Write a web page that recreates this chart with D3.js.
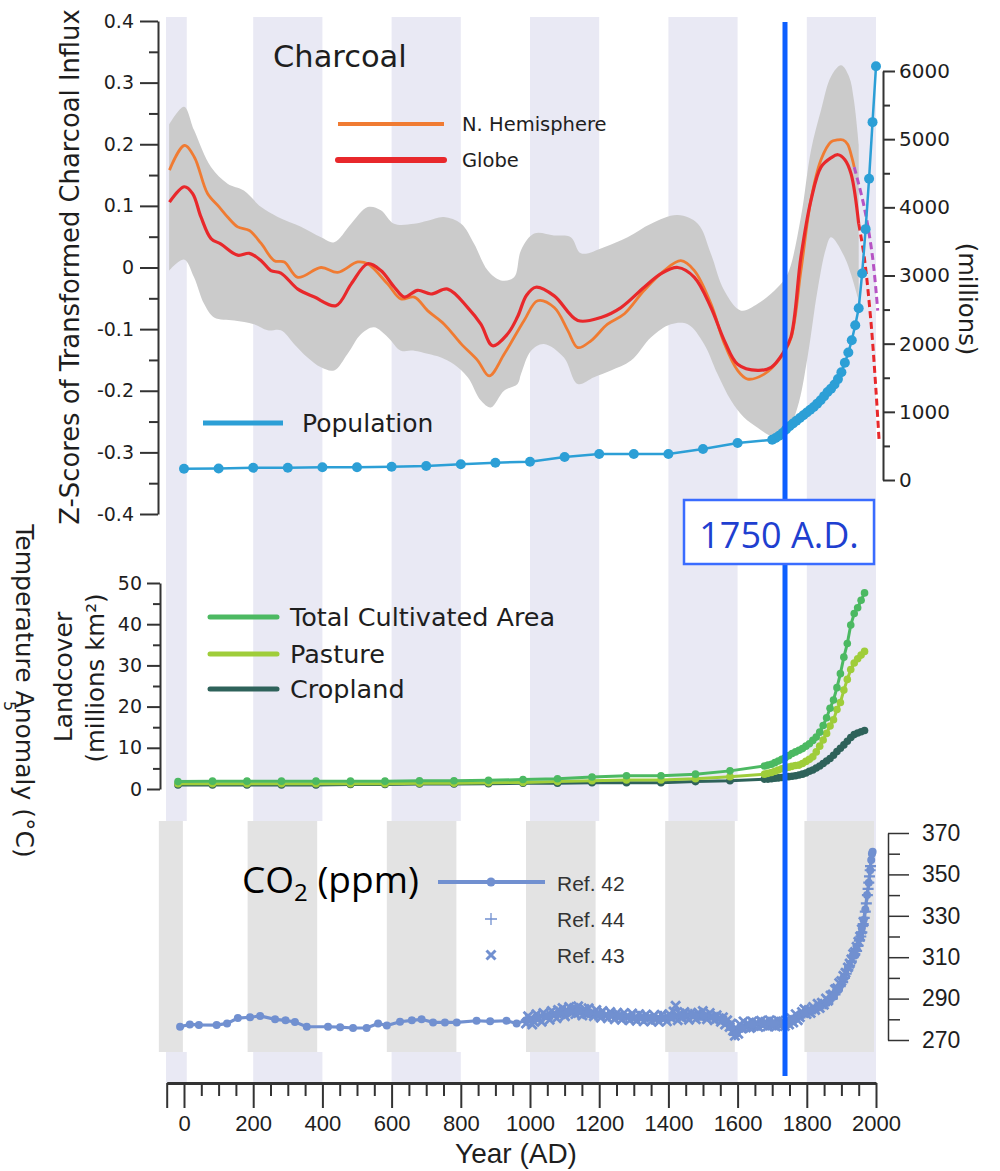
<!DOCTYPE html>
<html><head><meta charset="utf-8">
<script src="https://cdn.jsdelivr.net/npm/d3@7"></script>
<style>body{margin:0;background:#fff}</style>
</head><body>
<svg id="c" width="1000" height="1171"></svg>
<script>
// ---------------- DATA ----------------
// Charcoal z-scores [year, z]
const nhCharcoal = [[-42,0.158],[1,0.198],[30,0.179],[68,0.12],[102,0.098],[126,0.082],[155,0.066],[189,0.06],[223,0.039],[261,0.011],[290,0.009],[329,-0.016],[396,0.0],[444,-0.008],[502,0.009],[531,0.006],[589,-0.027],[627,-0.051],[666,-0.048],[704,-0.07],[752,-0.092],[801,-0.124],[849,-0.151],[882,-0.176],[926,-0.140],[983,-0.086],[1022,-0.054],[1070,-0.065],[1109,-0.102],[1138,-0.130],[1176,-0.119],[1224,-0.092],[1273,-0.075],[1330,-0.037],[1388,-0.005],[1436,0.011],[1475,-0.005],[1523,-0.059],[1562,-0.124],[1600,-0.167],[1629,-0.181],[1677,-0.173],[1725,-0.146],[1754,-0.115],[1783,-0.005],[1812,0.11],[1841,0.175],[1870,0.204],[1888,0.207],[1905,0.207],[1918,0.2],[1930,0.179],[1937,0.163]];
const nhCharcoalDashed = [[1937,0.163],[1966,0.098],[1990,0.017],[2005,-0.07]];
const globeCharcoal = [[-42,0.106],[1,0.131],[25,0.12],[49,0.082],[78,0.047],[107,0.038],[155,0.02],[189,0.023],[223,0.011],[251,-0.005],[280,-0.009],[329,-0.035],[377,-0.048],[439,-0.062],[483,-0.027],[531,0.006],[569,-0.005],[608,-0.032],[637,-0.048],[675,-0.037],[714,-0.043],[762,-0.035],[820,-0.065],[858,-0.092],[892,-0.127],[935,-0.108],[964,-0.08],[990,-0.045],[1017,-0.032],[1070,-0.046],[1138,-0.086],[1205,-0.081],[1263,-0.065],[1330,-0.032],[1379,-0.01],[1427,0.0],[1475,-0.016],[1523,-0.065],[1562,-0.119],[1600,-0.157],[1658,-0.167],[1697,-0.162],[1730,-0.140],[1754,-0.113],[1783,0.017],[1812,0.109],[1841,0.163],[1870,0.178],[1890,0.183],[1910,0.175],[1928,0.152],[1950,0.071]];
const globeCharcoalDashed = [[1950,0.071],[1966,0.017],[1986,-0.092],[2000,-0.2],[2009,-0.281]];
const ciUpper = [[-43,0.232],[0,0.261],[29,0.223],[78,0.163],[126,0.136],[173,0.125],[223,0.098],[271,0.082],[338,0.066],[396,0.049],[434,0.041],[483,0.071],[531,0.098],[569,0.093],[607,0.071],[665,0.071],[704,0.076],[751,0.082],[801,0.071],[838,0.039],[878,-0.005],[916,-0.021],[954,-0.016],[974,0.028],[1012,0.055],[1069,0.052],[1118,0.049],[1147,0.023],[1214,0.033],[1282,0.049],[1350,0.071],[1427,0.085],[1485,0.071],[1523,0.022],[1561,-0.037],[1610,-0.07],[1658,-0.059],[1716,-0.032],[1745,-0.01],[1783,0.082],[1812,0.19],[1841,0.255],[1870,0.31],[1899,0.328],[1922,0.31],[1936,0.272],[1950,0.2]];
const ciLower = [[-43,-0.005],[0,0.013],[29,-0.016],[58,-0.059],[87,-0.081],[145,-0.086],[202,-0.092],[242,-0.102],[280,-0.102],[318,-0.124],[357,-0.146],[396,-0.162],[434,-0.167],[473,-0.140],[512,-0.108],[549,-0.097],[589,-0.113],[627,-0.135],[665,-0.135],[704,-0.140],[743,-0.146],[780,-0.157],[820,-0.178],[858,-0.216],[887,-0.227],[925,-0.2],[964,-0.189],[974,-0.173],[1003,-0.135],[1040,-0.124],[1098,-0.146],[1138,-0.189],[1185,-0.178],[1234,-0.167],[1292,-0.151],[1350,-0.113],[1407,-0.092],[1456,-0.092],[1503,-0.124],[1542,-0.173],[1581,-0.216],[1618,-0.243],[1658,-0.26],[1705,-0.276],[1734,-0.276],[1773,-0.227],[1802,-0.146],[1831,-0.037],[1855,0.03],[1870,0.049],[1909,0.017],[1947,-0.048],[1950,-0.055]];

// Population (millions)
const popYears = [0,100,200,300,400,500,600,700,800,900,1000,1100,1200,1300,1400,1500,1600,1700,1710,1720,1730,1740,1750,1760,1770,1780,1790,1800,1810,1820,1830,1840,1850,1860,1870,1880,1890,1900,1910,1920,1930,1940,1950,1960,1970,1980,1990,2000];
const popValues = [166,170,180,180,186,186,195,205,230,254,268,337,381,381,381,455,543,590,615,650,690,740,790,830,870,910,950,990,1030,1070,1120,1170,1230,1290,1340,1400,1480,1580,1720,1870,2050,2270,2520,3030,3680,4420,5250,6070];

// Landcover (millions km2)
const landYears = [0,100,200,300,400,500,600,700,800,900,1000,1100,1200,1300,1400,1500,1600,1700,1710,1720,1730,1740,1750,1760,1770,1780,1790,1800,1810,1820,1830,1840,1850,1860,1870,1880,1890,1900,1910,1920,1930,1940,1950,1960,1970,1980,1990];
const totalArea = [1.8,1.9,1.9,1.9,1.9,1.9,1.9,2.0,2.0,2.1,2.3,2.5,2.9,3.2,3.2,3.6,4.4,5.6,5.8,6.0,6.4,6.8,7.2,7.6,8.1,8.6,9.0,9.4,9.8,10.4,11.0,11.8,12.6,13.8,15.4,17.3,19.6,21.6,24.6,28.0,32.0,35.3,39.8,42.6,44.0,45.8,47.6];
const pasture = [1.3,1.3,1.3,1.3,1.3,1.3,1.3,1.4,1.4,1.5,1.6,1.8,2.0,2.2,2.2,2.5,3.0,3.6,3.8,4.0,4.3,4.6,4.9,5.1,5.3,5.5,5.7,5.8,6.2,6.7,7.2,7.8,9.0,10.4,11.9,13.5,15.3,16.8,19.3,21.0,24.0,26.6,29.0,30.6,31.6,32.5,33.4];
const cropland = [1.0,1.0,1.0,1.0,1.0,1.1,1.1,1.2,1.2,1.3,1.4,1.4,1.5,1.5,1.5,1.8,2.0,2.4,2.4,2.5,2.6,2.7,2.8,2.9,3.0,3.1,3.2,3.4,3.6,3.9,4.3,4.6,5.1,5.6,6.2,6.8,7.4,8.2,9.1,9.9,10.7,11.6,12.5,13.2,13.6,13.9,14.2];

// CO2 (ppm) [year, ppm]
const co2Ref42 = [[6,276.4],[34,277.5],[60,277.3],[111,277.2],[141,278],[172,280.6],[207,281],[236,281.6],[279,280],[309,279.5],[336,278.7],[370,276.4],[431,276.4],[466,276.2],[503,275.8],[542,275.8],[575,278],[600,277],[638,278.8],[672,279.5],[700,280],[733,278.5],[767,278.5],[801,278.5],[858,279.3],[897,279],[944,279.3],[973,278],[1000,279.5],[1030,280.5],[1060,281.5],[1090,282.5],[1120,283.5],[1150,283.8],[1180,283],[1210,282.3],[1240,282],[1270,281.6],[1300,281.5],[1330,281],[1360,280.8],[1390,280.5],[1420,281],[1450,281.5],[1480,282],[1510,281.8],[1540,281],[1570,279.5],[1590,276],[1605,273],[1620,275.5],[1650,277.5],[1680,278],[1710,278],[1740,278.3],[1770,279.5],[1800,283],[1820,284.5],[1845,286],[1865,288],[1885,291],[1900,295],[1912,300],[1925,305],[1940,311],[1950,314],[1960,320],[1965,324],[1970,328],[1975,333],[1980,340],[1985,346],[1989,352],[1992,357],[1994,360],[1996,361]];
const co2Ref43 = [[1000,278],[1006,281.5],[1012,280],[1018,277.5],[1022,279],[1030,282.5],[1035,280.5],[1045,278.8],[1050,283],[1058,281.5],[1068,279.8],[1074,284],[1080,282],[1088,280.5],[1092,284.5],[1100,282.5],[1105,285.5],[1112,281.5],[1118,284],[1124,286],[1130,283],[1138,285.5],[1142,282.5],[1150,286.3],[1155,283.5],[1162,281.8],[1168,285],[1175,282.5],[1180,285.3],[1188,283],[1195,281.5],[1202,284.5],[1208,282.3],[1215,280.8],[1220,284],[1228,282],[1235,280.5],[1242,283.5],[1248,281.8],[1255,280],[1262,283.2],[1268,281],[1275,279.8],[1282,283],[1290,281.2],[1298,279.5],[1305,282.8],[1312,280.5],[1318,279.3],[1325,282.5],[1330,280.3],[1338,279],[1345,282.3],[1352,280.6],[1360,279],[1368,282],[1375,280.2],[1382,278.8],[1390,282.2],[1398,280.5],[1405,279],[1412,282.5],[1418,280.5],[1424,283.8],[1430,286.5],[1436,279.5],[1442,282.8],[1448,280.8],[1455,283.5],[1462,281.2],[1468,279.8],[1475,283],[1480,281.5],[1488,280],[1495,283.2],[1502,281],[1508,284],[1515,281.8],[1520,280],[1528,283],[1535,281],[1542,279.5],[1548,282],[1555,280.5],[1560,278.8],[1566,281],[1572,277.5],[1578,279.5],[1585,276.3],[1590,278],[1595,274.5],[1600,272],[1605,275.5],[1610,273],[1615,277.5],[1620,275.5],[1625,279],[1632,276],[1638,278],[1644,275.8],[1650,279],[1656,276.8],[1662,278.5],[1668,276.3],[1675,279.3],[1681,277],[1688,278.8],[1694,276.5],[1700,279.5],[1706,277],[1712,278.8],[1718,276.5],[1725,279.3],[1732,277],[1738,279],[1744,276.8],[1750,279.5],[1756,277.5],[1762,280.5],[1768,278.5],[1775,282.5],[1781,279.5],[1787,281],[1793,283.5],[1800,285],[1806,282.5],[1812,284.5],[1818,283],[1825,286],[1831,284.5],[1838,287.5],[1844,285.5],[1850,288],[1856,287],[1862,290],[1868,289],[1875,291.5],[1881,292],[1888,294.5],[1894,295],[1900,297.5],[1906,298.5],[1912,301],[1918,302.5],[1925,305],[1930,307],[1935,309],[1940,311.5],[1945,312.5],[1950,315],[1955,317.5],[1960,320],[1965,323.5],[1970,327]];
const co2Ref44 = [[1005,280],[1015,279],[1025,280.5],[1038,281],[1050,281.5],[1062,282.5],[1075,282.5],[1088,283.5],[1100,283],[1112,284.5],[1125,284],[1138,284.5],[1150,283],[1162,284],[1175,283.5],[1188,282.5],[1200,282],[1212,283],[1225,282.5],[1238,281.5],[1250,282],[1262,281],[1275,281.8],[1288,280.5],[1300,281],[1312,281.5],[1325,281.5],[1338,280.5],[1350,281],[1362,280],[1375,280.5],[1388,281.5],[1400,281],[1412,280.5],[1425,281.5],[1438,282],[1450,282],[1462,282.5],[1475,282.5],[1488,282],[1500,282],[1512,281.5],[1525,281.5],[1538,280.5],[1550,281],[1562,280],[1575,279],[1582,277.5],[1590,275],[1600,272.5],[1610,275],[1620,276.5],[1630,277],[1642,277.5],[1655,277.5],[1668,278],[1680,278.5],[1692,277.5],[1705,278],[1718,278],[1730,278.5],[1742,278],[1755,278.5],[1765,279.5],[1770,280],[1778,281],[1785,282],[1792,282],[1800,283],[1810,283.5],[1820,284],[1830,285],[1840,285.5],[1850,286.5],[1860,287.5],[1870,289],[1880,290],[1888,292],[1895,294],[1903,296],[1910,298],[1915,300],[1920,302],[1925,304],[1930,306],[1935,308],[1940,310],[1945,311.5],[1950,313],[1954,315.5],[1958,318],[1962,320],[1965,322],[1969,326],[1972,329],[1975,332],[1978,336],[1981,340],[1983,343],[1985,346],[1987,349],[1989,352],[1990,354]];

// background period bands (years)
const periodBands = [[-52,8],[200,400],[600,800],[1000,1200],[1400,1600],[1800,2000]];
const co2Bands = [[-55,14],[200,400],[600,800],[1000,1200],[1400,1600],[1800,2000]];
const markerYear = 1737;
const markerLabel = "1750 A.D.";

// tick labels
const zTicks = [-0.4,-0.3,-0.2,-0.1,0,0.1,0.2,0.3,0.4];
const popTicks = [0,1000,2000,3000,4000,5000,6000];
const landTicks = [0,10,20,30,40,50];
const co2Ticks = [270,290,310,330,350,370];
const yearTicks = [0,200,400,600,800,1000,1200,1400,1600,1800,2000];

// ---------------- DRAW ----------------
const svg = d3.select("#c");
const DV = "DejaVu Sans";
const AR = "Liberation Sans, Arial, sans-serif";

const xMain = d3.scaleLinear().domain([0,2000]).range([184,876]);
const xLand = d3.scaleLinear().domain([0,2000]).range([178,868]);
const xCO2 = d3.scaleLinear().domain([0,2000]).range([178,874]);
const yZ = d3.scaleLinear().domain([-0.4,0.4]).range([514,21]);
const yPop = d3.scaleLinear().domain([0,6000]).range([480,71]);
const yL = d3.scaleLinear().domain([0,50]).range([789,583]);
const yC = d3.scaleLinear().domain([270,370]).range([1040,833]);

const C = {lav:"#e9e9f4", ci:"#cbcbcb", nh:"#f07b32", globe:"#e8282b", purple:"#b653c4",
  pop:"#2c9fd6", total:"#4cb962", past:"#9fcd3a", crop:"#2e625a", co2:"#7190d0", blue:"#0d5fff", axis:"#333"};

// lavender bands
svg.append("g").selectAll("rect").data(periodBands).join("rect")
  .attr("x",d=>xMain(d[0])).attr("width",d=>xMain(d[1])-xMain(d[0]))
  .attr("y",17).attr("height",1083-17).attr("fill",C.lav);

function styleAxis(g, font, size, sw){
  g.attr("font-family",font).attr("font-size",size);
  g.selectAll("text").attr("fill","#1e1e1e");
  g.selectAll("line,path").attr("stroke",C.axis).attr("stroke-width",sw||2);
}

// ---- TOP PANEL ----
const lineZ = d3.line().x(d=>xMain(d[0])).y(d=>yZ(d[1])).curve(d3.curveCatmullRom.alpha(0.5));
const upPath = lineZ(ciUpper);
const lowPath = lineZ(ciLower.slice().reverse());
svg.append("path").attr("d", upPath + "L" + lowPath.slice(1) + "Z").attr("fill",C.ci);

// Z axis
const zAxis = svg.append("g").attr("transform","translate(158,0)")
  .call(d3.axisLeft(yZ).tickValues(zTicks).tickSize(18).tickPadding(6).tickSizeOuter(0)
    .tickFormat(d=> d===0 ? "0" : d.toFixed(1)));
styleAxis(zAxis, DV, 19);
const zMinor = svg.append("g").attr("transform","translate(158,0)")
  .call(d3.axisLeft(yZ).tickValues(zTicks.slice(0,-1).map(d=>d+0.05)).tickSize(9).tickFormat(""));
zMinor.select(".domain").remove(); styleAxis(zMinor, DV, 19);

// Pop axis
const pAxis = svg.append("g").attr("transform","translate(883,0)")
  .call(d3.axisRight(yPop).tickValues(popTicks).tickSize(12).tickPadding(4).tickSizeOuter(0).tickFormat(d3.format("d")));
styleAxis(pAxis, DV, 20);
const pMinor = svg.append("g").attr("transform","translate(883,0)")
  .call(d3.axisRight(yPop).tickValues(popTicks.slice(0,-1).map(d=>d+500)).tickSize(7).tickFormat(""));
pMinor.select(".domain").remove(); styleAxis(pMinor, DV, 20);

// charcoal lines
svg.append("path").attr("d",lineZ(nhCharcoal)).attr("fill","none").attr("stroke",C.nh).attr("stroke-width",2.8);
svg.append("path").attr("d",lineZ(nhCharcoalDashed)).attr("fill","none").attr("stroke",C.purple).attr("stroke-width",3).attr("stroke-dasharray","7,4");
svg.append("path").attr("d",lineZ(globeCharcoal)).attr("fill","none").attr("stroke",C.globe).attr("stroke-width",3.2);
svg.append("path").attr("d",lineZ(globeCharcoalDashed)).attr("fill","none").attr("stroke",C.globe).attr("stroke-width",3).attr("stroke-dasharray","7,4");

// population
const popData = popYears.map((y,i)=>[y,popValues[i]]);
svg.append("path").attr("d",d3.line().x(d=>xMain(d[0])).y(d=>yPop(d[1]))(popData))
  .attr("fill","none").attr("stroke",C.pop).attr("stroke-width",2.5);
svg.append("g").selectAll("circle").data(popData).join("circle")
  .attr("cx",d=>xMain(d[0])).attr("cy",d=>yPop(d[1])).attr("r",5).attr("fill",C.pop);

// top texts
svg.append("text").attr("x",273).attr("y",67).attr("font-family",DV).attr("font-size",30.5).attr("fill","#1e1e1e").text("Charcoal");
svg.append("line").attr("x1",338).attr("x2",444).attr("y1",124).attr("y2",124).attr("stroke",C.nh).attr("stroke-width",4);
svg.append("line").attr("x1",338).attr("x2",444).attr("y1",160).attr("y2",160).attr("stroke",C.globe).attr("stroke-width",6).attr("stroke-linecap","round");
svg.append("text").attr("x",462).attr("y",124).attr("dy","0.36em").attr("font-family",DV).attr("font-size",19.5).attr("fill","#1e1e1e").text("N. Hemisphere");
svg.append("text").attr("x",462).attr("y",160).attr("dy","0.36em").attr("font-family",DV).attr("font-size",19.5).attr("fill","#1e1e1e").text("Globe");
svg.append("line").attr("x1",203).attr("x2",283).attr("y1",423).attr("y2",423).attr("stroke",C.pop).attr("stroke-width",5);
svg.append("text").attr("x",302).attr("y",423).attr("dy","0.36em").attr("font-family",DV).attr("font-size",25).attr("fill","#1e1e1e").text("Population");
svg.append("text").attr("transform","translate(70,267) rotate(-90)").attr("text-anchor","middle").attr("dy","0.36em")
  .attr("font-family",DV).attr("font-size",25.8).attr("fill","#1e1e1e").text("Z-Scores of Transformed Charcoal Influx");
svg.append("text").attr("transform","translate(968,299) rotate(90)").attr("text-anchor","middle").attr("dy","0.36em")
  .attr("font-family",DV).attr("font-size",24.3).attr("fill","#1e1e1e").text("(millions)");

// ---- MIDDLE PANEL ----
const lAxis = svg.append("g").attr("transform","translate(160,0)")
  .call(d3.axisLeft(yL).tickValues(landTicks).tickSize(13).tickPadding(5).tickSizeOuter(0));
styleAxis(lAxis, DV, 19);
const lMinor = svg.append("g").attr("transform","translate(160,0)")
  .call(d3.axisLeft(yL).tickValues(landTicks.slice(0,-1).map(d=>d+5)).tickSize(7).tickFormat(""));
lMinor.select(".domain").remove(); styleAxis(lMinor, DV, 19);

const landSeries = [
  {vals:cropland, color:C.crop},
  {vals:pasture, color:C.past},
  {vals:totalArea, color:C.total}
];
const lineL = d3.line().x(d=>xLand(d[0])).y(d=>yL(d[1]));
landSeries.forEach(s=>{
  const pts = landYears.map((y,i)=>[y,s.vals[i]]);
  svg.append("path").attr("d",lineL(pts)).attr("fill","none").attr("stroke",s.color).attr("stroke-width",3);
  svg.append("g").selectAll("circle").data(pts).join("circle")
    .attr("cx",d=>xLand(d[0])).attr("cy",d=>yL(d[1])).attr("r",3.8).attr("fill",s.color);
});
const legL = [["Total Cultivated Area",C.total,617],["Pasture",C.past,654],["Cropland",C.crop,689]];
legL.forEach(l=>{
  svg.append("line").attr("x1",210).attr("x2",277).attr("y1",l[2]).attr("y2",l[2]).attr("stroke",l[1]).attr("stroke-width",5).attr("stroke-linecap","round");
  svg.append("text").attr("x",290).attr("y",l[2]).attr("dy","0.36em").attr("font-family",DV).attr("font-size",25.5).attr("fill","#1e1e1e").text(l[0]);
});
svg.append("text").attr("transform","translate(63,677) rotate(-90)").attr("text-anchor","middle").attr("dy","0.36em")
  .attr("font-family",DV).attr("font-size",25).attr("fill","#1e1e1e").text("Landcover");
svg.append("text").attr("transform","translate(95,678) rotate(-90)").attr("text-anchor","middle").attr("dy","0.36em")
  .attr("font-family",DV).attr("font-size",24.5).attr("fill","#1e1e1e").text("(millions km²)");

// left edge fragments
svg.append("text").attr("transform","translate(25,691) rotate(90)").attr("text-anchor","middle").attr("dy","0.36em")
  .attr("font-family",DV).attr("font-size",25).attr("fill","#1e1e1e").text("Temperature Anomaly (°C)");
svg.append("text").attr("transform","translate(10,706) rotate(90)").attr("text-anchor","middle").attr("dy","0.36em")
  .attr("font-family",DV).attr("font-size",16).attr("fill","#1e1e1e").text("5");

// ---- CO2 PANEL ----
svg.append("rect").attr("x",xCO2(-55)).attr("y",821).attr("width",xCO2(2000)-xCO2(-55)).attr("height",1052-821).attr("fill","#fff");
svg.append("g").selectAll("rect").data(co2Bands).join("rect")
  .attr("x",d=>xCO2(d[0])).attr("width",d=>xCO2(d[1])-xCO2(d[0]))
  .attr("y",821).attr("height",1052-821).attr("fill","#e3e3e3");

const cAxis = svg.append("g").attr("transform","translate(888,0)")
  .call(d3.axisRight(yC).tickValues(co2Ticks).tickSize(21).tickPadding(13).tickSizeOuter(0));
styleAxis(cAxis, AR, 23, 1.5);
const cMinor = svg.append("g").attr("transform","translate(888,0)")
  .call(d3.axisRight(yC).tickValues(co2Ticks.slice(0,-1).map(d=>d+10)).tickSize(12).tickFormat(""));
cMinor.select(".domain").remove(); styleAxis(cMinor, AR, 23, 1.5);

const xShape = "M-4.5,-4.5L4.5,4.5M-4.5,4.5L4.5,-4.5";
const pShape = "M-5.5,0L5.5,0M0,-5.5L0,5.5";
svg.append("g").selectAll("path").data(co2Ref44).join("path")
  .attr("transform",d=>`translate(${xCO2(d[0])},${yC(d[1])})`).attr("d",pShape)
  .attr("stroke",C.co2).attr("stroke-width",2.2).attr("fill","none");
svg.append("g").selectAll("path").data(co2Ref43).join("path")
  .attr("transform",d=>`translate(${xCO2(d[0])},${yC(d[1])})`).attr("d",xShape)
  .attr("stroke",C.co2).attr("stroke-width",2.8).attr("fill","none");
svg.append("path").attr("d",d3.line().x(d=>xCO2(d[0])).y(d=>yC(d[1]))(co2Ref42))
  .attr("fill","none").attr("stroke",C.co2).attr("stroke-width",3.2);
svg.append("g").selectAll("circle").data(co2Ref42).join("circle")
  .attr("cx",d=>xCO2(d[0])).attr("cy",d=>yC(d[1])).attr("r",4).attr("fill",C.co2);

// CO2 legend
const co2t = svg.append("text").attr("x",242).attr("y",893).attr("font-family","Open Sans, sans-serif").attr("font-size",37).attr("fill","#000");
co2t.append("tspan").text("CO");
co2t.append("tspan").attr("font-size",24).attr("dy",8).text("2");
co2t.append("tspan").attr("dy",-8).text(" (ppm)");
svg.append("line").attr("x1",438).attr("x2",545).attr("y1",882).attr("y2",882).attr("stroke",C.co2).attr("stroke-width",4);
svg.append("circle").attr("cx",491).attr("cy",882).attr("r",4.5).attr("fill",C.co2);
svg.append("path").attr("transform","translate(491,919)").attr("d","M-6,0L6,0M0,-6L0,6").attr("stroke",C.co2).attr("stroke-width",1.3);
svg.append("path").attr("transform","translate(491,955)").attr("d",xShape).attr("stroke",C.co2).attr("stroke-width",3);
[["Ref. 42",883],["Ref. 44",919],["Ref. 43",955]].forEach(r=>{
  svg.append("text").attr("x",557).attr("y",r[1]).attr("dy","0.36em").attr("font-family","Liberation Sans Narrow, Arial Narrow, Liberation Sans, sans-serif")
    .attr("font-size",21).attr("fill","#333").text(r[0]);
});

// ---- BOTTOM AXIS ----
const xAxisScale = d3.scaleLinear().domain([-50,2000]).range([xMain(-50),xMain(2000)]);
const bAxis = svg.append("g").attr("transform","translate(0,1083)")
  .call(d3.axisBottom(xAxisScale).tickValues([-50].concat(yearTicks)).tickSize(25).tickPadding(7).tickSizeOuter(0)
    .tickFormat(d=> d<0 ? "" : d));
styleAxis(bAxis, AR, 22, 2);
bAxis.select(".domain").attr("stroke-width",3);
const bMinor = svg.append("g").attr("transform","translate(0,1083)")
  .call(d3.axisBottom(xAxisScale).tickValues(d3.range(-50,2001,50).filter(d=>d%200!==0 && d!==-50)).tickSize(13).tickFormat(""));
bMinor.select(".domain").remove(); styleAxis(bMinor, AR, 22, 2);
svg.append("text").attr("x",516).attr("y",1163).attr("text-anchor","middle").attr("font-family",AR).attr("font-size",28).attr("fill","#1e1e1e").text("Year (AD)");

// ---- 1750 marker ----
svg.append("line").attr("x1",xMain(markerYear)).attr("x2",xMain(markerYear)).attr("y1",22).attr("y2",1076)
  .attr("stroke",C.blue).attr("stroke-width",5);
svg.append("rect").attr("x",684).attr("y",500).attr("width",190).attr("height",64).attr("fill","#fff").attr("stroke","#3a6cff").attr("stroke-width",2.5);
svg.append("text").attr("x",779).attr("y",548).attr("text-anchor","middle").attr("font-family","Open Sans, sans-serif").attr("font-size",36).attr("fill","#1f3fd0").text(markerLabel);
</script></body></html>
